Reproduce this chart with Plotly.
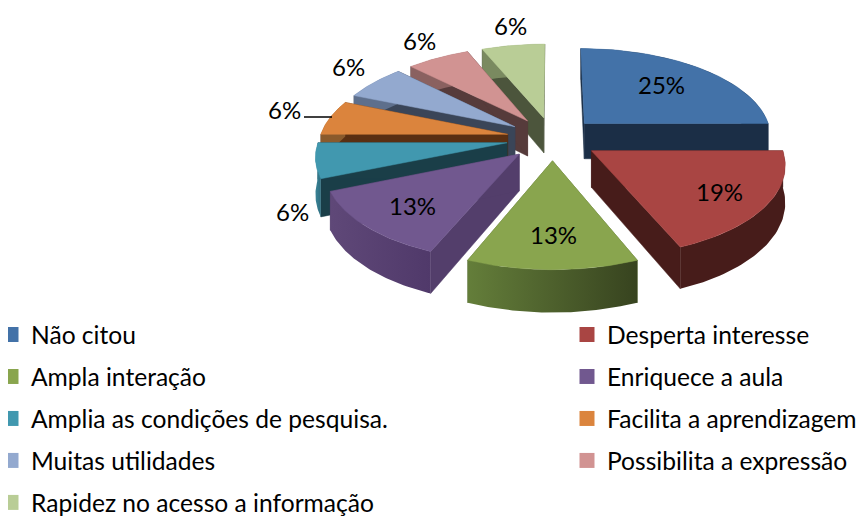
import math
import plotly.graph_objects as go

categories = ["Não citou", "Desperta interesse", "Ampla interação", "Enriquece a aula",
              "Amplia as condições de pesquisa.", "Facilita a aprendizagem",
              "Muitas utilidades", "Possibilita a expressão", "Rapidez no acesso a informação"]
values = [25, 18.75, 12.5, 12.5, 6.25, 6.25, 6.25, 6.25, 6.25]
labels = ["25%", "19%", "13%", "13%", "6%", "6%", "6%", "6%", "6%"]

top_colors = ["#4372A8", "#A94543", "#89A54E", "#71588F", "#4198AF", "#DB843D", "#93A9CF", "#D19392", "#B9CD96"]
cut_colors = ["#1B2E46", "#471C1A", "#566B34", "#533E6B", "#1A3E48", "#5A2F12", "#3A4558", "#563B3B", "#4C553C"]
arc_left = ["#1B2E46", "#471C1A", "#647E3A", "#5F4878", "#3A8396", "#8A5A2C", "#5E6F8C", "#8A6160", "#7A8A60"]
arc_right = ["#1B2E46", "#471C1A", "#37431F", "#50396A", "#2E6E80", "#8A5A2C", "#5E6F8C", "#8A6160", "#7A8A60"]
legend_colors = ["#4372A8", "#A94543", "#89A54E", "#71588F", "#4198AF", "#DB843D", "#93A9CF", "#D19392", "#B9CD96"]

CX, CY, R, EXPL, TILT, PERSP, DEPTH = 552.5, 138.5, 188, 46, 0.47, 0.00069, 36
label_frac = [0.6, 0.75, 0.72, 0.7, 1, 1, 1, 1, 1]
label_shift = [(5, -5), (0, 0), (1, -1), (-3, 2), (-23, 51), (-46, -8), (-25, -16), (-18, -17), (-3, -20)]
PAINT_ORDER = [0, 8, 7, 6, 5, 4, 3, 2, 1]
PAGE_MARGIN = 8  # the page body offsets the figure
W, H = 864 - PAGE_MARGIN, 517 - PAGE_MARGIN


def project(x, y, z=0.0):
    s = 1 / (1 - PERSP * y)
    return CX + x * s, CY + TILT * y * s + z * s


total = sum(values)
fig = go.Figure()
bounds = []
acc = 0
for v in values:
    bounds.append((acc / total * 2 * math.pi, (acc + v) / total * 2 * math.pi))
    acc += v


def polar(a, frac, mid):
    ex, ey = EXPL * math.sin(mid), -EXPL * math.cos(mid)
    return ex + frac * R * math.sin(a), ey - frac * R * math.cos(a)


def poly(pts, color=None, grad=None):
    xs = [p[0] for p in pts] + [pts[0][0]]
    ys = [p[1] for p in pts] + [pts[0][1]]
    kw = dict(x=xs, y=ys, mode="lines", fill="toself", line=dict(width=0.5, color=color or grad[0]),
              hoverinfo="skip", showlegend=False)
    if grad:
        kw["fillgradient"] = dict(type="horizontal", colorscale=[[0, grad[0]], [1, grad[1]]])
        kw["line"] = dict(width=0)
    else:
        kw["fillcolor"] = color
    fig.add_trace(go.Scatter(**kw))


for i in PAINT_ORDER:
    a0, a1 = bounds[i]
    mid = (a0 + a1) / 2
    apex = (EXPL * math.sin(mid), -EXPL * math.cos(mid))
    arc = [polar(a0 + (a1 - a0) * k / 48, 1, mid) for k in range(49)]
    for end in (arc[0], arc[-1]):
        poly([project(*apex), project(*end), project(*end, DEPTH), project(*apex, DEPTH)], cut_colors[i])
    poly([project(*p) for p in arc] + [project(*p, DEPTH) for p in reversed(arc)], grad=(arc_left[i], arc_right[i]))
    poly([project(*apex)] + [project(*p) for p in arc], top_colors[i])

for i, lab in enumerate(labels):
    a0, a1 = bounds[i]
    mid = (a0 + a1) / 2
    px, py = project(*polar(mid, label_frac[i], mid))
    fig.add_annotation(x=px + label_shift[i][0], y=py + label_shift[i][1], text=lab, showarrow=False,
                       font=dict(family="Lato", size=24, color="#000000"))

fig.add_shape(type="line", x0=304, x1=332, y0=117, y1=117, line=dict(color="#000000", width=1.5))

for i, name in enumerate(categories):
    fig.add_trace(go.Scatter(x=[None], y=[None], mode="markers", name=name,
                             marker=dict(symbol="square", size=15, color=legend_colors[i]),
                             legendgroup=str(i), legend="legend" if i % 2 == 0 else "legend2"))

leg = dict(orientation="v", yanchor="top", xanchor="left", bgcolor="rgba(0,0,0,0)",
           tracegroupgap=7, font=dict(family="Lato", size=24.6, color="#000000"))
fig.update_layout(
    width=W, height=H, margin=dict(l=0, r=0, t=0, b=0, autoexpand=False),
    paper_bgcolor="#FFFFFF", plot_bgcolor="#FFFFFF",
    xaxis=dict(range=[PAGE_MARGIN, 864], visible=False, fixedrange=True),
    yaxis=dict(range=[517, PAGE_MARGIN], visible=False, fixedrange=True),
    legend={**leg, "x": (-9 - PAGE_MARGIN) / W, "y": 1 - (312 - PAGE_MARGIN) / H},
    legend2={**leg, "x": (567 - PAGE_MARGIN) / W, "y": 1 - (312 - PAGE_MARGIN) / H},
)
fig.write_html("out.html")
